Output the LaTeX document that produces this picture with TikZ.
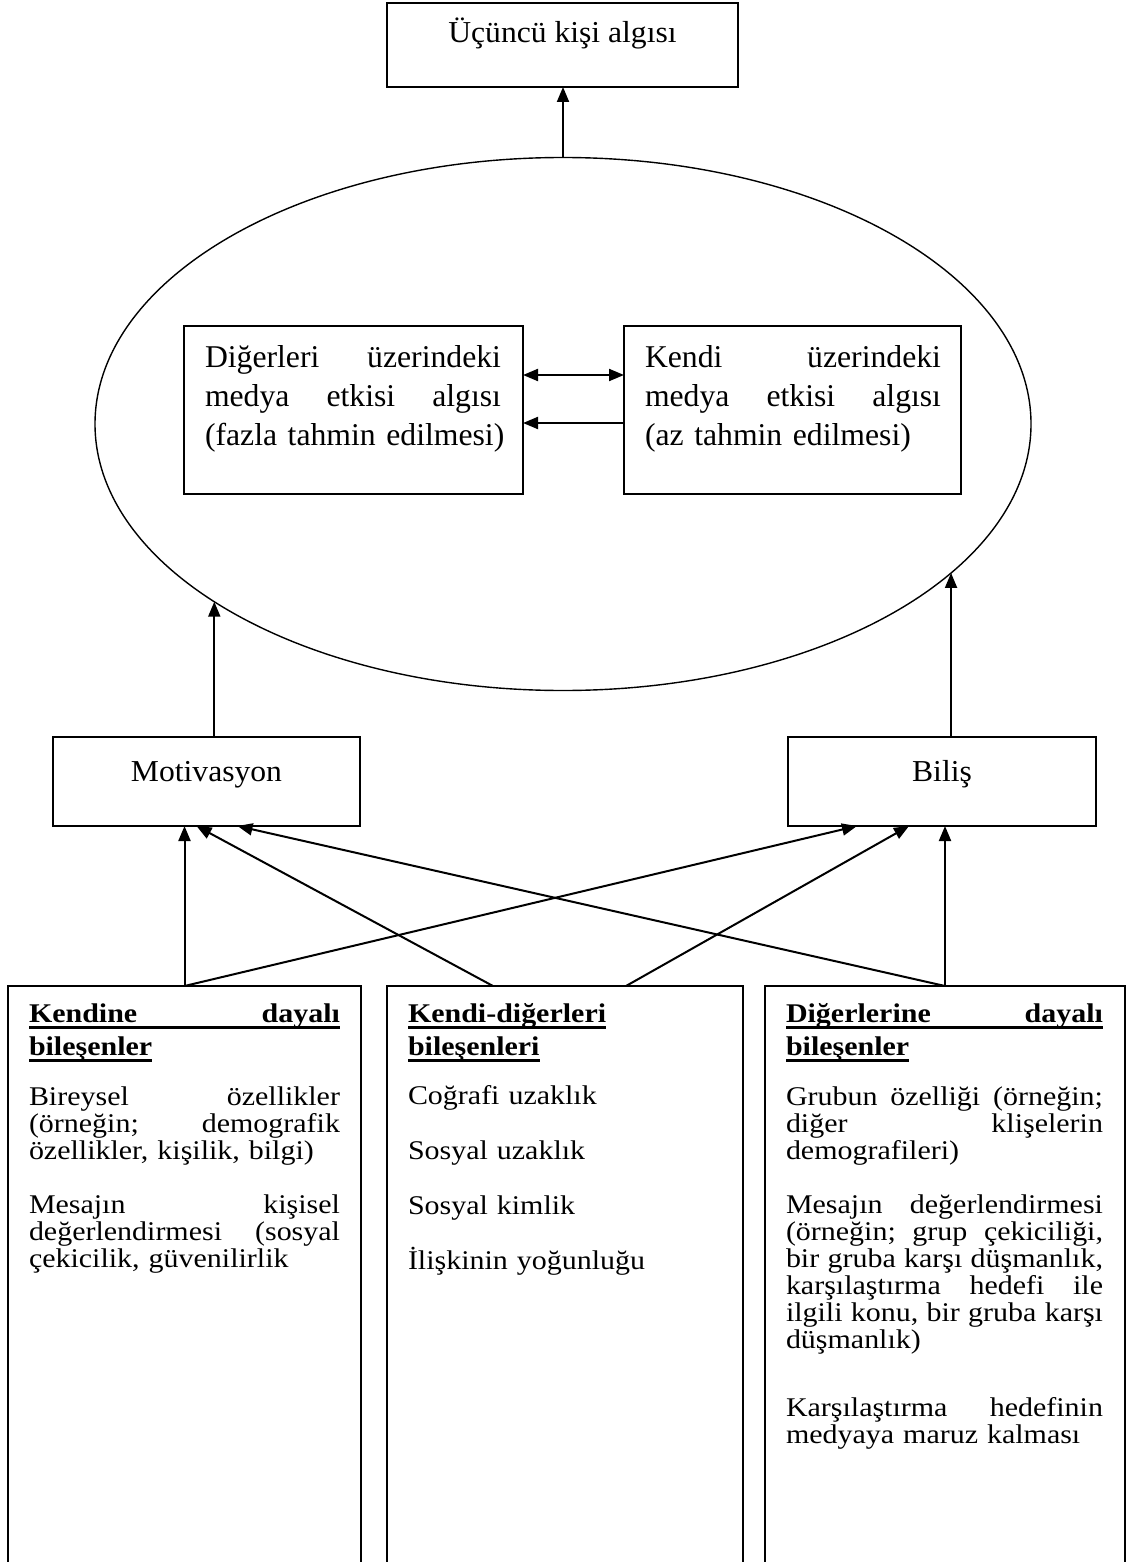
\documentclass[tikz,border=0pt]{standalone}
\usepackage{fontspec}
\setmainfont{Liberation Serif}
\newfontfamily\lblfont{Liberation Serif}[FakeStretch=1.04]
\newfontfamily\btfont{Liberation Serif}[FakeStretch=1.11]
\usetikzlibrary{arrows.meta,shapes.geometric,calc}
\newcommand\jl[2]{\leavevmode\hbox to #1pt{#2}}
\newcommand\myul[1]{\leavevmode\setbox0\hbox{#1}\rlap{\rule[-7pt]{\wd0}{2.6pt}}\box0}
\lineskiplimit=-50pt
\tikzset{
  box/.style={draw, line width=1.7pt, inner sep=0pt, outer sep=0pt, anchor=north west},
  lbl/.style={inner sep=0pt, outer sep=0pt, anchor=base, font=\lblfont\fontsize{30.4}{40}\selectfont},
  inner/.style={inner sep=0pt, outer sep=0pt, anchor=base west, text width=330pt, align=left, font=\fontsize{31.7}{39}\selectfont},
  para/.style={inner sep=0pt, outer sep=0pt, anchor=base west, text width=330pt, align=left, font=\btfont\fontsize{27}{27}\selectfont},
  arr/.style={line width=2pt, -{Triangle[length=15pt,width=12pt]}},
  darr/.style={line width=2pt, {Triangle[length=15pt,width=12pt]}-{Triangle[length=15pt,width=12pt]}},
}
\begin{document}
\begin{tikzpicture}[x=1pt,y=-1pt]
\lineskiplimit=-50pt
\useasboundingbox (0,0) rectangle (1127,1562);
\clip (0,0) rectangle (1127,1562);
% top box
\node[box, minimum width=351pt, minimum height=84pt] (third) at (387,3) {};
\node[lbl] (thirdT) at (562.5,43) {Üçüncü kişi algısı};
% ellipse
\node[draw, ellipse, line width=1.4pt, minimum width=936pt, minimum height=533pt, inner sep=0pt, outer sep=0pt] (ell) at (563,424) {};
% inner boxes
\node[box, minimum width=339pt, minimum height=168pt] (lbox) at (184,326) {};
\node[box, minimum width=337pt, minimum height=168pt] (rbox) at (624,326) {};
\node[inner] (lboxT) at (205,367) {\jl{296}{Diğerleri\hfill üzerindeki}\\\jl{296}{medya\hfill etkisi\hfill algısı}\\(fazla tahmin edilmesi)};
\node[inner] (rboxT) at (645,367) {\jl{296}{Kendi\hfill üzerindeki}\\\jl{296}{medya\hfill etkisi\hfill algısı}\\(az tahmin edilmesi)};
% middle boxes
\node[box, minimum width=307pt, minimum height=89pt] (mot) at (53,737) {};
\node[lbl] (motT) at (206.5,781) {Motivasyon};
\node[box, minimum width=308pt, minimum height=89pt] (bil) at (788,737) {};
\node[lbl] (bilT) at (942,781) {Biliş};
% bottom boxes
\node[box, minimum width=353pt, minimum height=620pt] (b1) at (8,986) {};
\node[box, minimum width=356pt, minimum height=620pt] (b2) at (387,986) {};
\node[box, minimum width=360pt, minimum height=620pt] (b3) at (765,986) {};
% box 1 text
\node[para] (b1t) at (29,1022) {\bfseries\myul{\jl{311}{Kendine\hfill dayalı}}\\[6pt]\myul{bileşenler}};
\node[para] (b1p1) at (29,1105) {\jl{311}{Bireysel\hfill özellikler}\\\jl{311}{(örneğin;\hfill demografik}\\özellikler, kişilik, bilgi)};
\node[para] (b1p2) at (29,1213) {\jl{311}{Mesajın\hfill kişisel}\\\jl{311}{değerlendirmesi\hfill (sosyal}\\çekicilik, güvenilirlik};
% box 2 text
\node[para] (b2t) at (408,1022) {\bfseries\myul{Kendi-diğerleri}\\[6pt]\myul{bileşenleri}};
\node[para] (b2p1) at (408,1104) {Coğrafi uzaklık};
\node[para] (b2p2) at (408,1159) {Sosyal uzaklık};
\node[para] (b2p3) at (408,1214) {Sosyal kimlik};
\node[para] (b2p4) at (408,1269) {İlişkinin yoğunluğu};
% box 3 text
\node[para] (b3t) at (786,1022) {\bfseries\myul{\jl{317}{Diğerlerine\hfill dayalı}}\\[6pt]\myul{bileşenler}};
\node[para] (b3p1) at (786,1105) {\jl{317}{Grubun\hfill özelliği\hfill (örneğin;}\\\jl{317}{diğer\hfill klişelerin}\\demografileri)};
\node[para] (b3p2) at (786,1213) {\jl{317}{Mesajın\hfill değerlendirmesi}\\\jl{317}{(örneğin;\hfill grup\hfill çekiciliği,}\\\jl{317}{bir\hfill gruba\hfill karşı\hfill düşmanlık,}\\\jl{317}{karşılaştırma\hfill hedefi\hfill ile}\\\jl{317}{ilgili\hfill konu,\hfill bir\hfill gruba\hfill karşı}\\düşmanlık)};
\node[para] (b3p3) at (786,1416) {\jl{317}{Karşılaştırma\hfill hedefinin}\\medyaya maruz kalması};
% connectors
\draw[arr] (ell.north) -- (ell.north |- third.south);
\draw[darr] ([yshift=-49pt]lbox.north east) -- ([yshift=-49pt]rbox.north west);
\draw[arr] ([yshift=-97pt]rbox.north west) -- ([yshift=-97pt]lbox.north east);
\draw[arr] (mot.north -| ell.207) -- (ell.207);
\draw[arr] (bil.north -| ell.339) -- (ell.339);
\draw[arr] (b1.north) -- (b1.north |- mot.south);
\draw[arr] (b1.north) -- ([xshift=-85pt]bil.south);
\draw[arr] ([xshift=-72pt]b2.north) -- ([xshift=-10pt]mot.south);
\draw[arr] ([xshift=61pt]b2.north) -- ([xshift=-33pt]bil.south);
\draw[arr] (b3.north) -- (b3.north |- bil.south);
\draw[arr] (b3.north) -- ([xshift=31pt]mot.south);
\end{tikzpicture}
\end{document}
